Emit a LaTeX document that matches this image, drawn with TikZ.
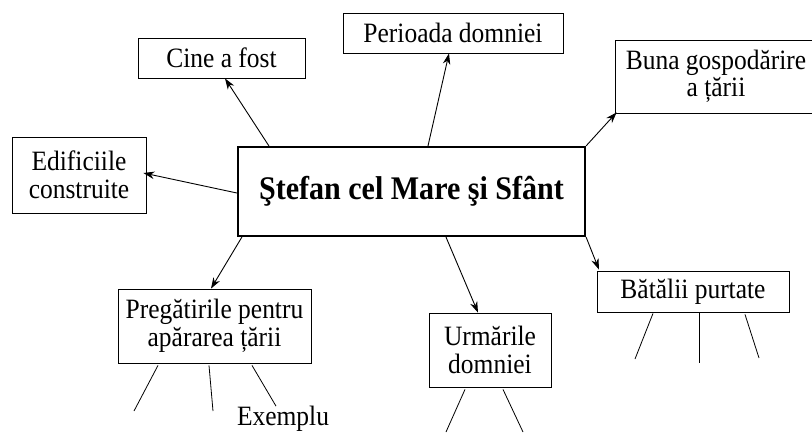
\documentclass[tikz,border=0pt]{standalone}
\usepackage{fontspec}
\setmainfont{Liberation Serif}[FakeStretch=0.91]
\usetikzlibrary{arrows.meta}
\tikzset{
  box/.style={draw, line width=0.8pt, rectangle, inner sep=0pt, align=center,
    font=\fontsize{28}{27.5}\selectfont},
  mainbox/.style={draw, line width=2.2pt, rectangle, inner sep=0pt, align=center,
    font=\fontsize{33}{34}\selectfont\bfseries},
  plain/.style={inner sep=0pt, font=\fontsize{28}{27.5}\selectfont},
  arr/.style={line width=0.9pt, -{Stealth[length=11pt,width=7.5pt,inset=3.5pt]}},
  leg/.style={line width=0.8pt}
}
\begin{document}
\begin{tikzpicture}[x=1pt,y=-1pt]
\useasboundingbox (0,0) rectangle (812,432);
\node[mainbox, minimum width=347pt, minimum height=89pt] (main) at (411.5,191.5) {Ştefan cel Mare şi Sfânt};
\node[box, minimum width=167pt, minimum height=40pt] (cine) at (221.5,58) {Cine a fost};
\node[box, minimum width=220pt, minimum height=40pt] (perioada) at (453,33) {Perioada domniei};
\node[box, minimum width=202pt, minimum height=73pt] (buna) at (716,76.5) {Buna gospodărire\\a țării};
\node[box, minimum width=134pt, minimum height=76pt] (edif) at (79,175) {Edificiile\\construite};
\node[box, minimum width=193pt, minimum height=74pt] (preg) at (214.5,326) {Pregătirile pentru\\apărarea țării};
\node[box, minimum width=122pt, minimum height=74pt] (urm) at (490,350) {Urmările\\domniei};
\node[box, minimum width=192pt, minimum height=41pt] (bat) at (693,291.5) {Bătălii purtate};
\node[plain] (ex) at (283,419) {Exemplu};

\draw[arr] ([xshift=32pt]main.north west) -- ([xshift=3.5pt]cine.south);
\draw[arr] ([yshift=-1.5pt]main.west) -- ([xshift=-3pt,yshift=2pt]edif.east);
\draw[arr] ([xshift=16.5pt]main.north) -- ([xshift=-4pt]perioada.south);
\draw[arr] (main.north east) -- ([xshift=2pt,yshift=1pt]buna.south west);
\draw[arr] ([xshift=5pt]main.south west) -- ([xshift=-3.5pt]preg.north);
\draw[arr] ([xshift=34.5pt]main.south) -- ([xshift=-12pt]urm.north);
\draw[arr] (main.south east) -- ([xshift=-94pt,yshift=1pt]bat.north);

\coordinate (p1) at (134,411);
\coordinate (p2) at (213,411);
\coordinate (u1) at (446,432);
\coordinate (u2) at (523,432);
\coordinate (b1) at (635,359);
\coordinate (b2) at (699,363);
\coordinate (b3) at (759,358);
\draw[leg] ([xshift=-56.5pt,yshift=-2pt]preg.south) -- (p1);
\draw[leg] ([xshift=-5.5pt,yshift=-2pt]preg.south) -- (p2);
\draw[leg] ([xshift=37.5pt,yshift=-2pt]preg.south) -- ([xshift=-7pt]ex.north);
\draw[leg] ([xshift=-25pt,yshift=-2pt]urm.south) -- (u1);
\draw[leg] ([xshift=13pt,yshift=-2pt]urm.south) -- (u2);
\draw[leg] ([xshift=-40pt,yshift=-1pt]bat.south) -- (b1);
\draw[leg] ([xshift=6pt,yshift=-1pt]bat.south) -- (b2);
\draw[leg] ([xshift=52pt,yshift=-2pt]bat.south) -- (b3);
\end{tikzpicture}
\end{document}
